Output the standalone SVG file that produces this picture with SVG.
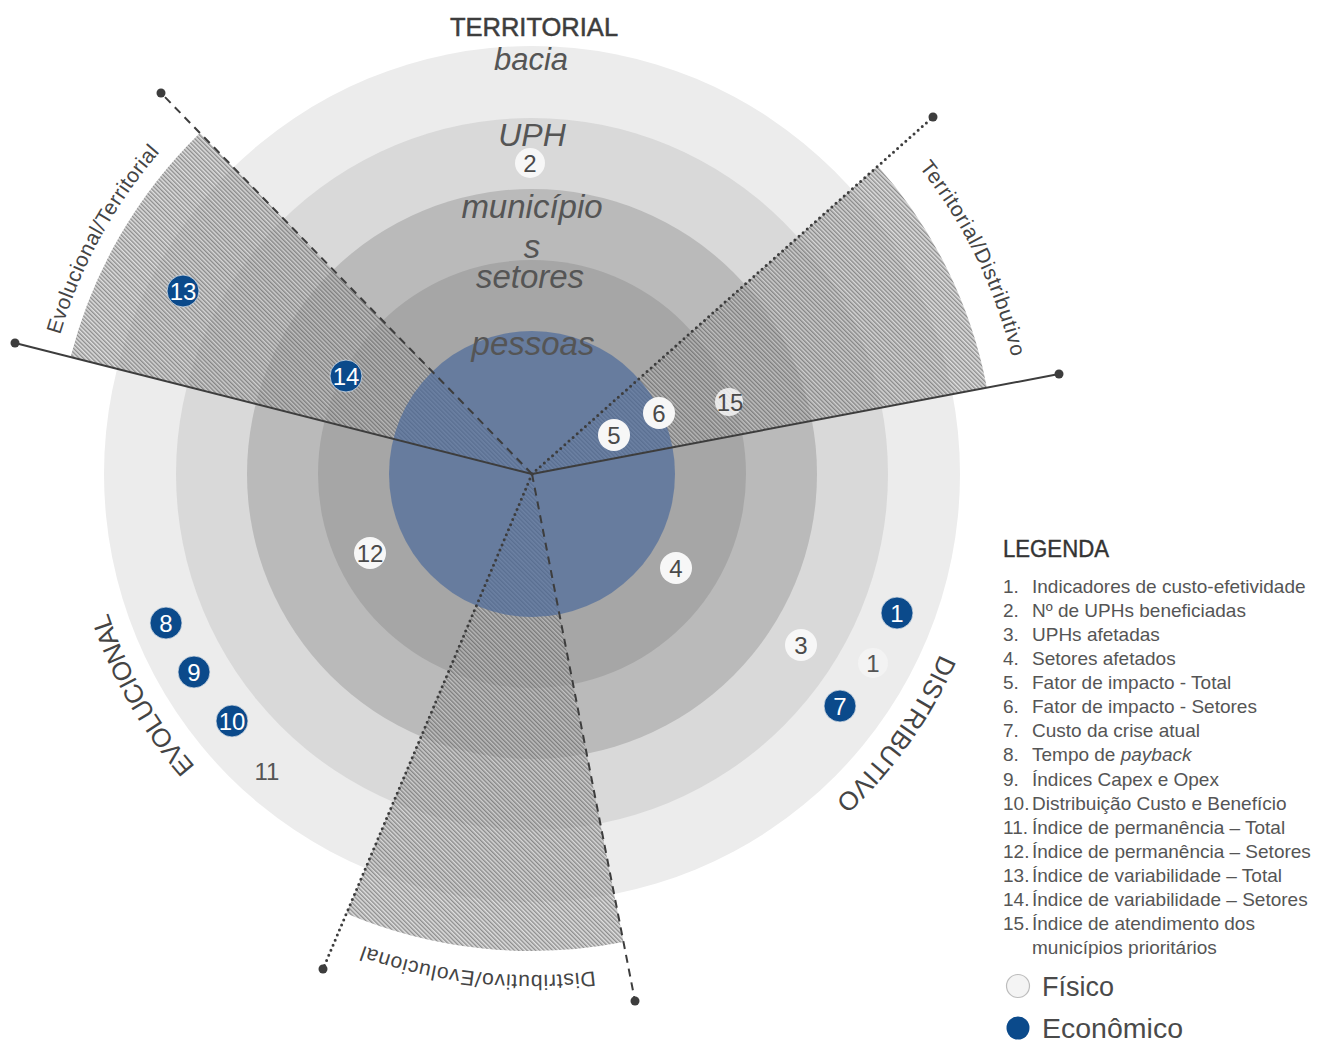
<svg xmlns="http://www.w3.org/2000/svg" width="1330" height="1048" viewBox="0 0 1330 1048">
<defs>
<style>
.f{font-family:"Liberation Sans",Arial,sans-serif;}
.rl{font-family:"Liberation Sans",Arial,sans-serif;font-style:italic;text-anchor:middle;fill:#555555;}
.num{font-family:"Liberation Sans",Arial,sans-serif;font-size:24px;text-anchor:middle;}
.wc{fill:#f7f7f7;}
.bc{fill:#0b4a8b;stroke:#d9dfe6;stroke-width:0.8;}
.wt{fill:#4a4a4a;}
.bt{fill:#ffffff;}
.ax{fill:none;stroke:#3d3d3d;stroke-width:2;}
.dash{stroke-dasharray:8 6;}
.dot{stroke-dasharray:0 5.5;stroke-linecap:round;stroke-width:3;}
.end{fill:#3d3d3d;}
.sec{font-family:"Liberation Sans",Arial,sans-serif;font-size:21px;fill:#444444;}
.big{font-family:"Liberation Sans",Arial,sans-serif;font-size:26px;fill:#444444;}
.leg{font-family:"Liberation Sans",Arial,sans-serif;font-size:19px;fill:#555555;}
</style>
<pattern id="hatch" width="3" height="3" patternUnits="userSpaceOnUse" patternTransform="rotate(-45)">
<rect width="3" height="3" fill="#c4c4c4" fill-opacity="0.55"/>
<rect width="1.4" height="3" fill="#3c3c3c" fill-opacity="0.5"/>
</pattern>
<path id="pEvo" d="M195.4,766.6 A446,446 0 0 1 101.2,589.4"/>
<path id="pDis" d="M940.1,654.0 A446,446 0 0 1 787.8,839.4"/>
<path id="pET" d="M60.0,335.1 A492,492 0 0 1 215.7,97.1"/>
<path id="pTD" d="M919.1,167.2 A494,494 0 0 1 1024.1,430.9"/>
<path id="pDE" d="M594.8,971.1 A501,501 0 0 1 320.3,928.1"/>
</defs>

<g id="rings">
<circle cx="532" cy="474" r="428" fill="#ececec"/>
<circle cx="532" cy="474" r="356" fill="#d9d9d9"/>
<circle cx="532" cy="474" r="285" fill="#bababa"/>
<circle cx="532" cy="474" r="214" fill="#a6a6a6"/>
</g>

<g id="sectors">
<path d="M532,474 L70.6,357.1 A476,476 0 0 1 199.9,132.9 Z" fill="url(#hatch)"/>
<path d="M532,474 L877.8,166.1 A463,463 0 0 1 986.9,387.7 Z" fill="url(#hatch)"/>
<path d="M532,474 L623.5,942.1 A477,477 0 0 1 346.4,913.4 Z" fill="url(#hatch)"/>
</g>

<g id="core">
<circle cx="532" cy="474" r="143" fill="#4d6b9b" fill-opacity="0.7"/>
</g>

<g id="ring-labels">
<text class="f" x="534" y="36" font-size="25.5" text-anchor="middle" fill="#3d3d3d" stroke="#3d3d3d" stroke-width="0.5">TERRITORIAL</text>
<text class="rl" x="531" y="70" font-size="31">bacia</text>
<text class="rl" x="532" y="146" font-size="32">UPH</text>
<text class="rl" x="532" y="218" font-size="33" fill="#4f4f4f">município</text>
<text class="rl" x="532" y="258" font-size="33" fill="#4f4f4f">s</text>
<text class="rl" x="530" y="288" font-size="33" fill="#4f4f4f">setores</text>
<text class="rl" x="533" y="355" font-size="33" fill="#4a5466">pessoas</text>
</g>

<g id="connectors">
<line class="ax" x1="532" y1="474" x2="15" y2="343"/>
<line class="ax" x1="532" y1="474" x2="1059" y2="374"/>
<line class="ax dash" x1="532" y1="474" x2="161" y2="93"/>
<line class="ax dash" x1="532" y1="474" x2="635" y2="1001"/>
<line class="ax dot" x1="532" y1="474" x2="933" y2="117"/>
<line class="ax dot" x1="532" y1="474" x2="323" y2="969"/>
<circle class="end" cx="15" cy="343" r="4.5"/>
<circle class="end" cx="1059" cy="374" r="4.5"/>
<circle class="end" cx="161" cy="93" r="4.5"/>
<circle class="end" cx="635" cy="1001" r="4.5"/>
<circle class="end" cx="933" cy="117" r="4.5"/>
<circle class="end" cx="323" cy="969" r="4.5"/>
</g>

<g id="m2"><circle class="wc" cx="530" cy="163" r="15"/><text class="num wt" x="530" y="171.5">2</text></g>
<g id="m13"><circle class="bc" cx="183" cy="291" r="16"/><text class="num bt" x="183" y="299.5">13</text></g>
<g id="m14"><circle class="bc" cx="346" cy="376" r="16"/><text class="num bt" x="346" y="384.5">14</text></g>
<g id="m5"><circle class="wc" cx="614" cy="435" r="16"/><text class="num wt" x="614" y="443.5">5</text></g>
<g id="m6"><circle class="wc" cx="659" cy="413" r="16"/><text class="num wt" x="659" y="421.5">6</text></g>
<g id="m15"><circle class="wc" cx="729" cy="402" r="14" fill-opacity="0.85"/><text class="num wt" x="730" y="410.5">15</text></g>
<g id="m12"><circle class="wc" cx="370" cy="553" r="16"/><text class="num wt" x="370" y="561.5">12</text></g>
<g id="m4"><circle class="wc" cx="676" cy="568" r="16"/><text class="num wt" x="676" y="576.5">4</text></g>
<g id="m3"><circle class="wc" cx="801" cy="645" r="16"/><text class="num wt" x="801" y="653.5">3</text></g>
<g id="m1e"><circle class="bc" cx="897" cy="613" r="16"/><text class="num bt" x="897" y="621.5">1</text></g>
<g id="m1f"><circle cx="873" cy="663" r="15" fill="#f3f3f3"/><text class="num" x="873" y="672" font-size="26" fill="#555555">1</text></g>
<g id="m7"><circle class="bc" cx="840" cy="706" r="16"/><text class="num bt" x="840" y="714.5">7</text></g>
<g id="m8"><circle class="bc" cx="166" cy="623" r="16"/><text class="num bt" x="166" y="631.5">8</text></g>
<g id="m9"><circle class="bc" cx="194" cy="672" r="16"/><text class="num bt" x="194" y="680.5">9</text></g>
<g id="m10"><circle class="bc" cx="232" cy="721" r="16"/><text class="num bt" x="232" y="729.5">10</text></g>
<g id="m11"><text class="num" x="267" y="780" font-size="27" fill="#555555">11</text></g>

<g id="dimension-labels">
<text class="big"><textPath href="#pEvo" textLength="178" lengthAdjust="spacing">EVOLUCIONAL</textPath></text>
<text class="big"><textPath href="#pDis" textLength="182" lengthAdjust="spacing">DISTRIBUTIVO</textPath></text>
<text class="sec"><textPath href="#pET" textLength="210" lengthAdjust="spacing">Evolucional/Territorial</textPath></text>
<text class="sec"><textPath href="#pTD" textLength="213" lengthAdjust="spacing">Territorial/Distributivo</textPath></text>
<text class="sec"><textPath href="#pDE" textLength="235" lengthAdjust="spacing">Distributivo/Evolucional</textPath></text>
</g>

<g id="legend">
<text class="f" x="1003" y="557" font-size="23" fill="#333333" stroke="#333333" stroke-width="0.4" textLength="106" lengthAdjust="spacingAndGlyphs">LEGENDA</text>
<g class="leg">
<text x="1003" y="593">1.</text><text x="1032" y="593">Indicadores de custo-efetividade</text>
<text x="1003" y="617">2.</text><text x="1032" y="617">Nº de UPHs beneficiadas</text>
<text x="1003" y="641">3.</text><text x="1032" y="641">UPHs afetadas</text>
<text x="1003" y="665">4.</text><text x="1032" y="665">Setores afetados</text>
<text x="1003" y="689">5.</text><text x="1032" y="689">Fator de impacto - Total</text>
<text x="1003" y="713">6.</text><text x="1032" y="713">Fator de impacto - Setores</text>
<text x="1003" y="737">7.</text><text x="1032" y="737">Custo da crise atual</text>
<text x="1003" y="761">8.</text><text x="1032" y="761">Tempo de <tspan font-style="italic">payback</tspan></text>
<text x="1003" y="786">9.</text><text x="1032" y="786">Índices Capex e Opex</text>
<text x="1003" y="810">10.</text><text x="1032" y="810">Distribuição Custo e Benefício</text>
<text x="1003" y="834">11.</text><text x="1032" y="834">Índice de permanência – Total</text>
<text x="1003" y="858">12.</text><text x="1032" y="858">Índice de permanência – Setores</text>
<text x="1003" y="882">13.</text><text x="1032" y="882">Índice de variabilidade – Total</text>
<text x="1003" y="906">14.</text><text x="1032" y="906">Índice de variabilidade – Setores</text>
<text x="1003" y="930">15.</text><text x="1032" y="930">Índice de atendimento dos</text>
<text x="1032" y="954">municípios prioritários</text>
</g>
<circle cx="1018" cy="986" r="11.5" fill="#f4f4f4" stroke="#bdbdbd" stroke-width="1.2"/>
<text class="f" x="1042" y="996" font-size="27" fill="#4a4a4a">Físico</text>
<circle cx="1018" cy="1028" r="11.5" fill="#0b4a8b"/>
<text class="f" x="1042" y="1038" font-size="27" fill="#4a4a4a" textLength="141" lengthAdjust="spacingAndGlyphs">Econômico</text>
</g>
</svg>
